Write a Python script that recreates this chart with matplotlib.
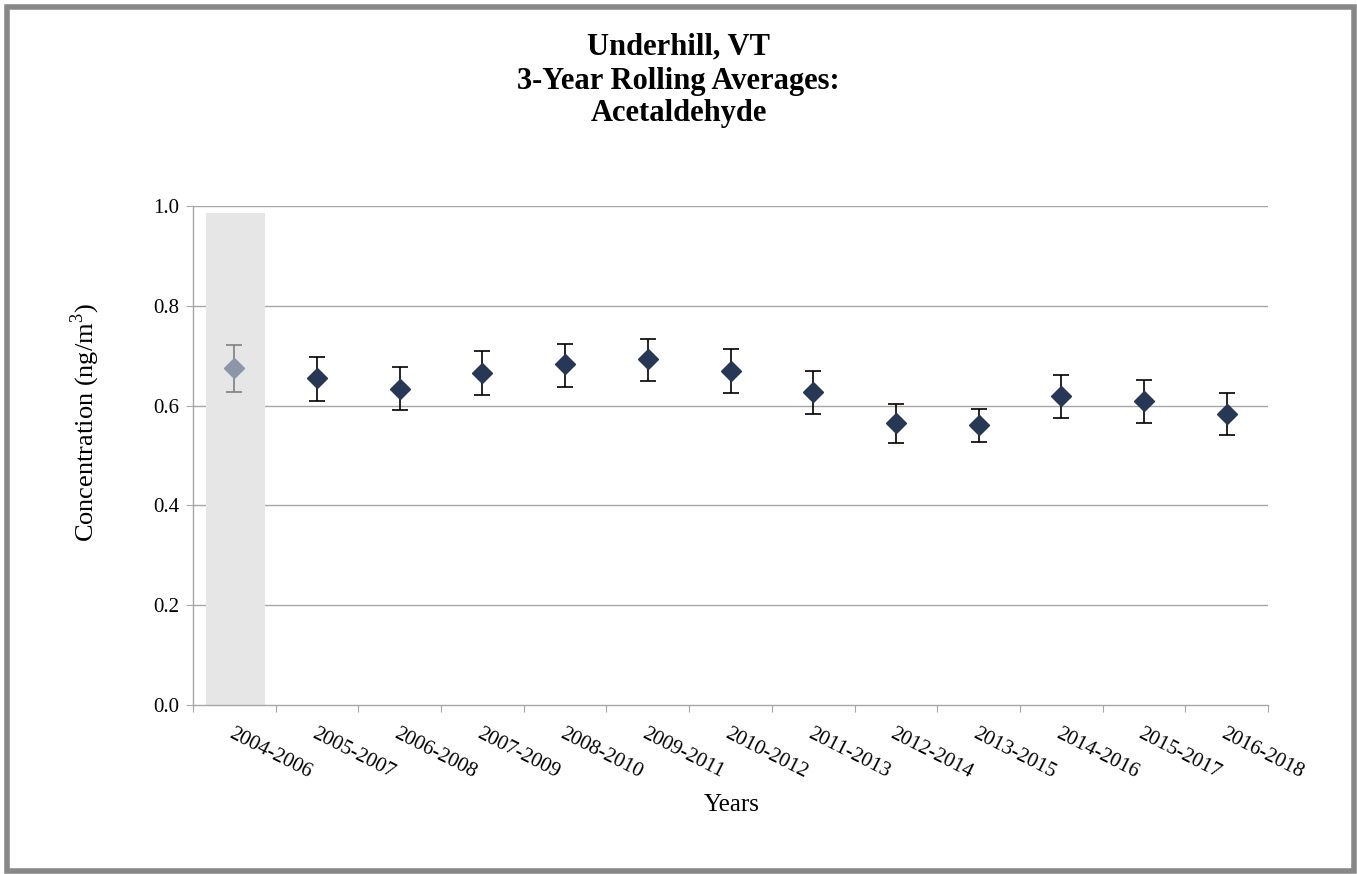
import matplotlib
matplotlib.use("Agg")
import matplotlib.pyplot as plt
from matplotlib.patches import Rectangle
import numpy as np

periods = ["2004-2006", "2005-2007", "2006-2008", "2007-2009", "2008-2010",
           "2009-2011", "2010-2012", "2011-2013", "2012-2014", "2013-2015",
           "2014-2016", "2015-2017", "2016-2018"]
means = [0.675, 0.655, 0.634, 0.665, 0.683, 0.693, 0.669,
         0.627, 0.566, 0.561, 0.619, 0.609, 0.583]
upper = [0.722, 0.697, 0.677, 0.709, 0.724, 0.734, 0.714,
         0.669, 0.604, 0.594, 0.662, 0.651, 0.625]
lower = [0.627, 0.609, 0.592, 0.622, 0.637, 0.649, 0.625,
         0.584, 0.526, 0.528, 0.576, 0.566, 0.541]
yticks = [0.0, 0.2, 0.4, 0.6, 0.8, 1.0]

serif = ["Liberation Serif", "DejaVu Serif"]
plt.rcParams["font.family"] = serif
plt.rcParams["mathtext.fontset"] = "custom"
plt.rcParams["mathtext.rm"] = "Liberation Serif"

fig = plt.figure(figsize=(13.57, 8.74), dpi=100)
ax = fig.add_axes([193 / 1357, 1 - 705 / 874, (1268 - 193) / 1357, (705 - 206) / 874])

x = np.arange(len(periods))
m = np.array(means)
err = np.vstack([m - np.array(lower), np.array(upper) - m])

grid_c = "#a6a6a6"
for yv in yticks[1:]:
    ax.axhline(yv, color=grid_c, lw=1.0, zorder=1)

# shaded first period (incomplete data)
ax.add_patch(Rectangle((-0.34, 0.0), 0.71, 0.986, facecolor="#e6e6e6",
                       edgecolor="none", zorder=2))

# first period in grey, remaining periods in navy
ax.errorbar(x[:1], m[:1], yerr=err[:, :1], fmt="D", ms=10.5, color="#8c96a6",
            mec="#8c96a6", ecolor="#7f7f7f", elinewidth=1.2, capsize=5.5,
            capthick=1.2, zorder=4)
ax.errorbar(x[1:], m[1:], yerr=err[:, 1:], fmt="D", ms=10.5, color="#263855",
            mec="#263855", ecolor="#000000", elinewidth=1.2, capsize=5.5,
            capthick=1.2, zorder=4)

ax.set_xlim(-0.5, len(periods) - 0.5)
ax.set_ylim(0, 1.0)

ax.set_yticks(yticks)
ax.set_yticklabels([f"{v:.1f}" for v in yticks], fontsize=15)
ax.set_xticks(np.arange(len(periods) + 1) - 0.5)
ax.set_xticklabels([])
ax.set_xticks(x, minor=True)
ax.set_xticklabels(periods, minor=True, rotation=-27, ha="left",
                   rotation_mode="anchor", fontsize=15)
ax.tick_params(axis="x", which="minor", length=0, pad=14)
ax.tick_params(axis="x", which="major", length=5, color=grid_c, direction="out")
ax.tick_params(axis="y", length=5, color=grid_c, direction="out", pad=5)

for s in ["top", "right"]:
    ax.spines[s].set_visible(False)
for s in ["left", "bottom"]:
    ax.spines[s].set_color(grid_c)
    ax.spines[s].set_linewidth(1.0)

ax.set_ylabel("Concentration (ng/m$^3$)", fontsize=19, va="center")
ax.yaxis.set_label_coords((85 - 193) / 1075, (705 - 423) / 499)
ax.set_xlabel("Years", fontsize=18, va="center")
ax.xaxis.set_label_coords((732 - 193) / 1075, (705 - 805) / 499)

title_lines = ["Underhill, VT", "3-Year Rolling Averages:", "Acetaldehyde"]
for ypix, line in zip([47, 81, 114], title_lines):
    fig.text(0.5, 1 - ypix / 874, line, ha="center", va="center",
             fontsize=22, fontweight="bold")

# outer frame
fig.add_artist(Rectangle((6.5 / 1357, 3.5 / 874), 1347 / 1357, 864 / 874,
                         transform=fig.transFigure, fill=False,
                         edgecolor="#888888", lw=4))

fig.savefig("out.png", dpi=100, facecolor="white")
